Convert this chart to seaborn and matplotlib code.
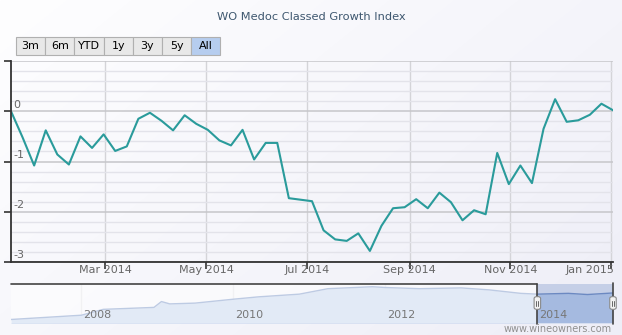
import numpy as np
import pandas as pd
import matplotlib
matplotlib.use("Agg")
import matplotlib.pyplot as plt
import matplotlib.dates as mdates
import matplotlib.transforms as mtransforms
from matplotlib.patches import Rectangle, FancyBboxPatch
from matplotlib.lines import Line2D
import seaborn as sns

# ---------------- data ----------------
title = "WO Medoc Classed Growth Index"
start_date = "2014-01-03"
index_values = [0.00, -0.52, -1.08, -0.38, -0.86, -1.06, -0.50, -0.73, -0.46, -0.79,
                -0.70, -0.15, -0.03, -0.19, -0.38, -0.08, -0.25, -0.37, -0.58, -0.68,
                -0.37, -0.96, -0.63, -0.63, -1.73, -1.76, -1.79, -2.37, -2.55, -2.58,
                -2.43, -2.78, -2.28, -1.93, -1.91, -1.75, -1.93, -1.62, -1.81, -2.17,
                -1.97, -2.05, -0.83, -1.45, -1.08, -1.43, -0.35, 0.24, -0.21, -0.18,
                -0.07, 0.15, 0.02]
month_ticks = ["2014-03-01", "2014-05-01", "2014-07-01", "2014-09-01", "2014-11-01", "2015-01-01"]
month_labels = ["Mar 2014", "May 2014", "Jul 2014", "Sep 2014", "Nov 2014", "Jan 2015"]
y_ticks = [0, -1, -2, -3]
y_labels = ["0", "-1", "-2", "-3"]

nav_dates = ["2007-01-27", "2008-01-01", "2008-04-15", "2008-12-15", "2009-01-20",
             "2009-03-01", "2009-07-01", "2010-01-01", "2010-05-01", "2010-11-15",
             "2011-04-01", "2011-11-01", "2012-01-01", "2012-06-15", "2013-01-01",
             "2013-05-15", "2013-10-15", "2014-01-03", "2014-06-01", "2014-09-01",
             "2015-01-02"]
nav_values = [0.09, 0.20, 0.35, 0.40, 0.55, 0.49, 0.51, 0.61, 0.67, 0.74,
              0.88, 0.93, 0.91, 0.88, 0.90, 0.85, 0.76, 0.74, 0.76, 0.73, 0.77]
nav_years = ["2008-01-01", "2010-01-01", "2012-01-01", "2014-01-01"]
nav_year_labels = ["2008", "2010", "2012", "2014"]
range_buttons = ["3m", "6m", "YTD", "1y", "3y", "5y", "All"]
selected_button = "All"
credit = "www.wineowners.com"

dates = pd.date_range(start_date, periods=len(index_values), freq="7D")
df = pd.DataFrame({"date": dates, "value": index_values})
nav_df = pd.DataFrame({"date": pd.to_datetime(nav_dates), "value": nav_values})

# ---------------- figure ----------------
W, H = 622, 335
sns.set_theme(style="white")
plt.rcParams["font.family"] = ["DejaVu Sans"]
fig = plt.figure(figsize=(W / 100, H / 100), dpi=100)


def fx(px):
    return px / W


def fy(py):
    return 1 - py / H


# background gradient
bg = fig.add_axes([0, 0, 1, 1], zorder=-10)
gx = np.linspace(0, 1, 256)
gy = np.linspace(0, 1, 256)
G = gx[None, :] * 0.6 + gy[:, None] * 0.4
c0 = np.array([254, 254, 255]) / 255
c1 = np.array([238, 238, 247]) / 255
img = c0[None, None, :] * (1 - G[..., None]) + c1[None, None, :] * G[..., None]
bg.imshow(img, aspect="auto", extent=[0, 1, 0, 1], origin="upper")
bg.axis("off")

# ---------------- main chart ----------------
L, R, T, B = 11, 613, 61, 262
ax = fig.add_axes([fx(L), fy(B), fx(R - L), (B - T) / H])
ax.patch.set_alpha(0)

ax.set_yticks(np.arange(-3, 1.01, 1))
ax.set_yticks(np.arange(-3, 1.01, 0.2), minor=True)
ax.grid(which="minor", axis="y", color="#e3e3ea", lw=1)
ax.grid(which="major", axis="y", color="#c6c6ca", lw=1.1)
ax.set_xticks(pd.to_datetime(month_ticks))
ax.set_xticklabels(month_labels)
ax.grid(which="major", axis="x", color="#d4d4d8", lw=1)
ax.set_axisbelow(True)

sns.lineplot(data=df, x="date", y="value", ax=ax, color="#2a9b9b", linewidth=1.5)
ax.set_xlim(dates[0], dates[-1])
ax.set_ylim(-3, 1)
ax.set_xlabel("")
ax.set_ylabel("")
ax.set_yticklabels([])

for s in ["top", "right"]:
    ax.spines[s].set_visible(False)
for s in ["left", "bottom"]:
    ax.spines[s].set_color("#333333")
    ax.spines[s].set_linewidth(1.3)

ax.tick_params(axis="y", which="major", direction="out", length=5, color="#333333", width=1.2, left=True)
ax.tick_params(axis="y", which="minor", length=0)
ax.tick_params(axis="x", which="major", direction="out", length=5, color="#333333", width=1.2,
               bottom=True, pad=-2.5, labelsize=8, labelcolor="#666666")

last_lab = ax.get_xticklabels()[-1]
last_lab.set_horizontalalignment("right")
last_lab.set_transform(last_lab.get_transform() +
                       mtransforms.ScaledTranslation(3 / 100, 0, fig.dpi_scale_trans))

for v, lab in zip(y_ticks, y_labels):
    ax.text(0.004, v + 0.07, lab, transform=ax.get_yaxis_transform(), ha="left",
            va="baseline", fontsize=8, color="#666666")

# title
fig.text(fx(311), fy(17), title, ha="center", va="center", color="#3E576F", fontsize=8.2)

# range selector buttons
bw = 29.2
for i, lab in enumerate(range_buttons):
    x0 = 16 + i * bw
    sel = lab == selected_button
    fc = "#b6cdef" if sel else "#e8e8e8"
    rect = Rectangle((fx(x0), fy(54.5)), fx(bw), 17.5 / H, transform=fig.transFigure,
                     facecolor=fc, edgecolor="#b0b0b0", lw=0.8)
    fig.add_artist(rect)
    fig.text(fx(x0 + bw / 2), fy(46), lab, ha="center", va="center", fontsize=8, color="#000000")

# ---------------- navigator ----------------
NT, NB = 284, 323
nav = fig.add_axes([fx(L), fy(NB), fx(R - L), (NB - NT) / H])
nav.patch.set_alpha(0)
nav_xmin = pd.Timestamp(nav_dates[0])
nav_xmax = dates[-1]

nav.fill_between(nav_df["date"], nav_df["value"], 0, color="#c1d2ed", lw=0, zorder=1)
sns.lineplot(data=nav_df, x="date", y="value", ax=nav, color="#6f8cc2", linewidth=1, zorder=2)
nav.set_xlim(nav_xmin, nav_xmax)
nav.set_ylim(0, 1)
nav.set_xlabel("")
nav.set_ylabel("")
nav.set_xticks(pd.to_datetime(nav_years))
nav.grid(which="major", axis="x", color="#e2e2e6", lw=1)
nav.set_axisbelow(True)
nav.tick_params(length=0, labelbottom=False, labelleft=False)
nav.set_yticks([])
for s in nav.spines.values():
    s.set_visible(False)

# masks
nav.axvspan(nav_xmin, dates[0], color="white", alpha=0.55, lw=0, zorder=3)
nav.axvspan(dates[0], dates[-1], color="#6685c2", alpha=0.3, lw=0, zorder=3)

for d, lab in zip(nav_years, nav_year_labels):
    nav.text(pd.Timestamp(d) + pd.Timedelta(days=10), 0.2, lab, transform=nav.get_xaxis_transform(),
             ha="left", va="center", fontsize=8, color="#777777", zorder=5)

# outline
nav.plot([nav_xmin, dates[0]], [1, 1], color="#444444", lw=1.2, clip_on=False, zorder=6,
         transform=nav.get_xaxis_transform())
nav.axvline(dates[0], ymin=-0.03, ymax=1.0, color="#444444", lw=1.2, clip_on=False, zorder=6)
nav.axvline(dates[-1], ymin=-0.03, ymax=1.02, color="#444444", lw=1.2, clip_on=False, zorder=6)

# handles
for d in [dates[0], dates[-1]]:
    px, _ = nav.transData.transform((mdates.date2num(d), 0))
    hx = px
    hw, hh = 6.5, 13
    hy_top = 296.5
    patch = FancyBboxPatch((fx(hx - hw / 2), fy(hy_top + hh)), fx(hw), hh / H,
                           boxstyle="round,pad=0,rounding_size=0.006", transform=fig.transFigure,
                           facecolor="#f2f2f2", edgecolor="#8a8a8a", lw=0.8, zorder=10)
    fig.add_artist(patch)
    for off in (-1.0, 1.0):
        fig.add_artist(Line2D([fx(hx + off), fx(hx + off)], [fy(hy_top + 4), fy(hy_top + hh - 4)],
                              transform=fig.transFigure, color="#666666", lw=0.7, zorder=11))

# credit
fig.text(fx(612), fy(328.5), credit, ha="right", va="center", fontsize=7, color="#909090")

fig.savefig("out.png", dpi=100)
